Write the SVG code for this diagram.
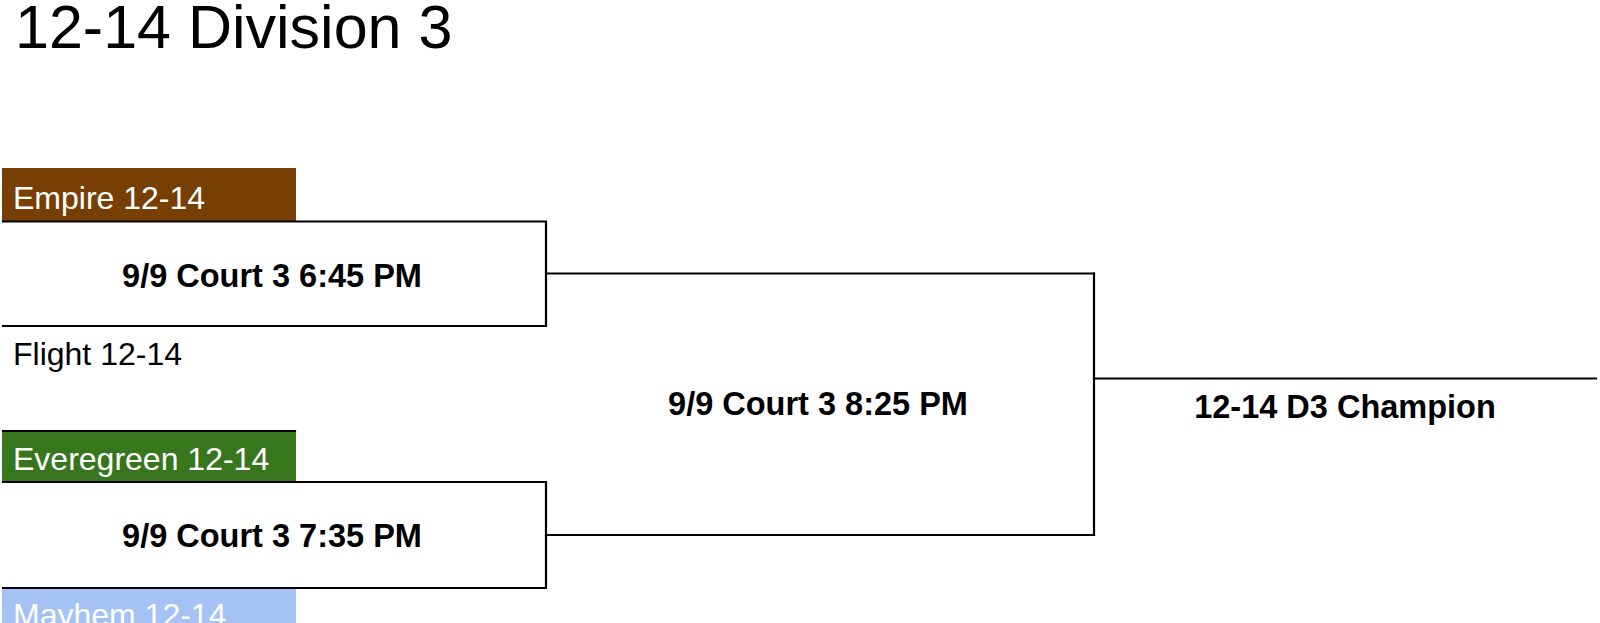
<svg xmlns="http://www.w3.org/2000/svg" width="1600" height="623" viewBox="0 0 1600 623">
<style>
text{font-family:"Liberation Sans",Arial,sans-serif;font-size:32px}
.title{font-size:61px;fill:#000}
.team{fill:#fff}
.dark{fill:#000}
.game{font-weight:bold;font-size:32.5px;text-anchor:middle;fill:#000}
.ln{stroke:#000;stroke-width:2.2;fill:none;stroke-linecap:square}
</style>
<rect width="1600" height="623" fill="#fff"/>
<text class="title" x="15" y="48">12-14 Division 3</text>
<g id="empire">
<rect x="2" y="168" width="294" height="53" fill="#783f04"/>
<text class="team" x="13" y="209">Empire 12-14</text>
</g>
<g id="flight">
<text class="dark" x="13" y="365">Flight 12-14</text>
</g>
<g id="everegreen">
<rect x="2" y="431" width="294" height="51" fill="#38761d"/>
<line class="ln" x1="3" y1="431" x2="295" y2="431"/>
<text class="team" x="13" y="470">Everegreen 12-14</text>
</g>
<g id="mayhem">
<rect x="2" y="589" width="294" height="40" fill="#a4c2f4"/>
<text class="team" x="13" y="626">Mayhem 12-14</text>
</g>
<g id="game1">
<text class="game" x="272" y="287">9/9 Court 3 6:45 PM</text>
</g>
<g id="game2">
<text class="game" x="272" y="547">9/9 Court 3 7:35 PM</text>
</g>
<g id="game3">
<text class="game" x="818" y="415">9/9 Court 3 8:25 PM</text>
</g>
<g id="champion">
<text class="game" x="1345" y="418">12-14 D3 Champion</text>
</g>
<g id="connectors">
<polyline class="ln" points="3,221.5 546,221.5 546,326 3,326"/>
<polyline class="ln" points="3,482 546,482 546,588 3,588"/>
<line class="ln" x1="546" y1="273.5" x2="1094" y2="273.5"/>
<line class="ln" x1="546" y1="535" x2="1094" y2="535"/>
<line class="ln" x1="1094" y1="273.5" x2="1094" y2="535"/>
<line class="ln" x1="1094" y1="378.5" x2="1596" y2="378.5"/>
</g>
</svg>
